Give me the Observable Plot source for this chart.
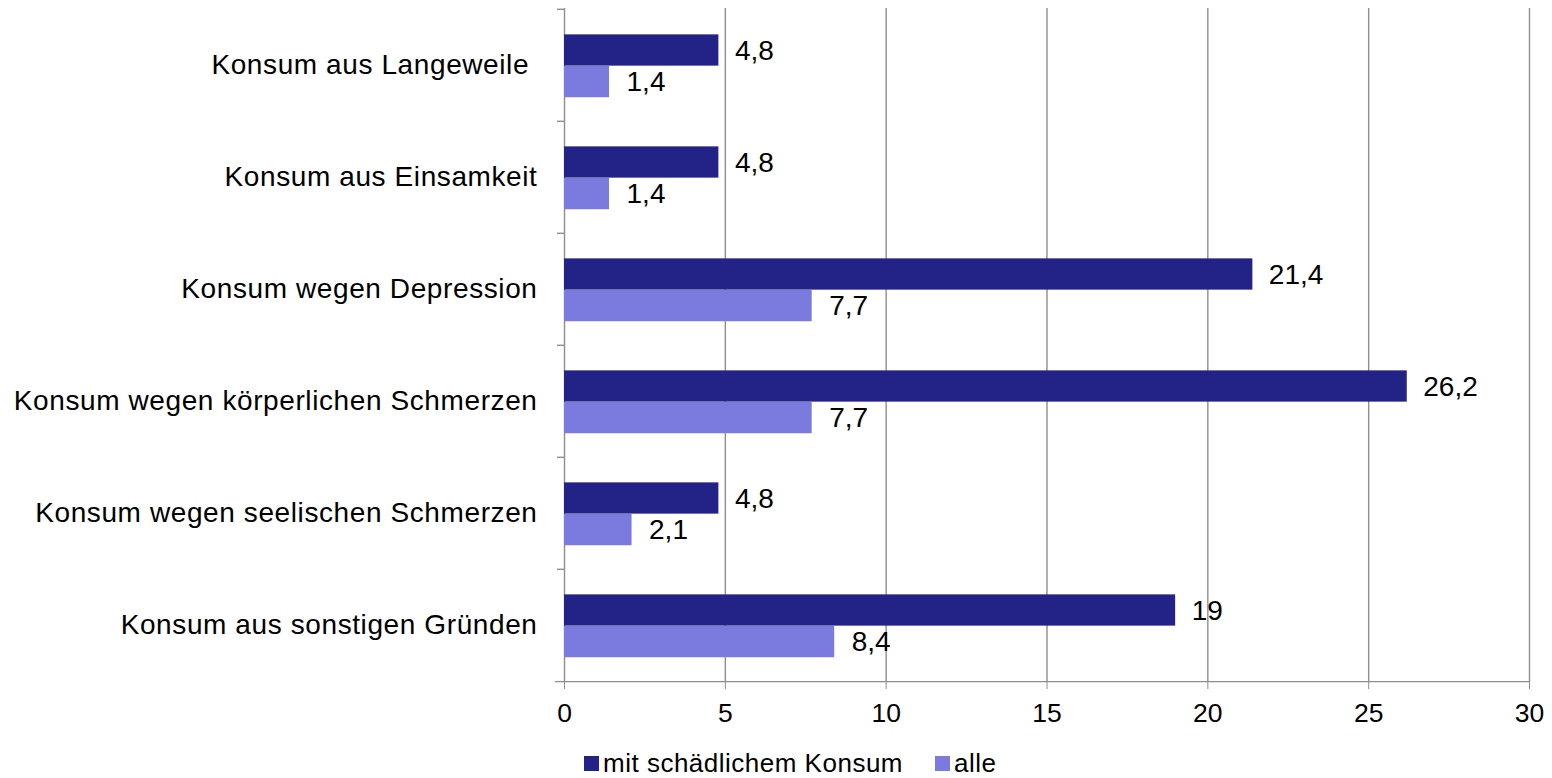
<!DOCTYPE html>
<html>
<head>
<meta charset="utf-8">
<script src="https://cdn.jsdelivr.net/npm/d3@7"></script>
<script src="https://cdn.jsdelivr.net/npm/@observablehq/plot@0.6"></script>
<style>
  html, body { margin: 0; padding: 0; background: #fff; }
  body { font-family: "Liberation Sans", Arial, sans-serif; }
  #chart svg { display: block; }
  svg text { fill: #000; white-space: pre; }
  #legend { display: flex; align-items: center; height: 28px; line-height: 28px; padding-top: 7px; padding-left: 584px;
            font-size: 26px; letter-spacing: 0.5px; color: #000; }
  #legend .sw { width: 15px; height: 15px; margin-right: 4px; }
  #legend .item { display: flex; align-items: center; margin-right: 32px; }
</style>
</head>
<body>
<div id="chart"></div>
<div id="legend"></div>
<script>
const categories = [
  "Konsum aus Langeweile ",
  "Konsum aus Einsamkeit",
  "Konsum wegen Depression",
  "Konsum wegen körperlichen Schmerzen",
  "Konsum wegen seelischen Schmerzen",
  "Konsum aus sonstigen Gründen"
];
const seriesNames = ["mit schädlichem Konsum", "alle"];
const schaedlich = [4.8, 4.8, 21.4, 26.2, 4.8, 19];
const alle = [1.4, 1.4, 7.7, 7.7, 2.1, 8.4];
const xTicks = [0, 5, 10, 15, 20, 25, 30];
const colors = ["#232387", "#7b7bdf"];

const rows = categories.map((c, i) => ({cat: c, dark: schaedlich[i], light: alle[i]}));
const fmt = v => String(v).replace(".", ",");

const W = 1552, H = 742, mt = 8, mb = 60, ml = 564, mr = 23;
const band = (H - mt - mb) / categories.length;
const ppu = (W - ml - mr) / (xTicks[xTicks.length - 1] - xTicks[0]);
const h = 31.6, off = 0.8;
const grid = "#8e8e8e";

const chart = Plot.plot({
  width: W, height: H,
  marginTop: mt, marginBottom: mb, marginLeft: ml, marginRight: mr,
  style: {fontFamily: '"Liberation Sans", Arial, sans-serif', fontSize: "26.5px", color: grid, background: "#fff"},
  x: {domain: [0, 30], ticks: xTicks, tickSize: 7, tickPadding: 14, tickFormat: d => fmt(d), label: null},
  y: {domain: categories, padding: 0, tickSize: 0, tickPadding: 27, label: null},
  marks: [
    Plot.ruleX(xTicks, {stroke: grid, strokeWidth: 1.4}),
    Plot.ruleY(categories, {x1: -7 / ppu, x2: 0, dy: -band / 2, stroke: grid, strokeWidth: 1.4}),
    Plot.ruleY([categories[categories.length - 1]], {x1: -9 / ppu, x2: 30, dy: band / 2, stroke: grid, strokeWidth: 1.4}),
    Plot.barX(rows, {x: "dark", y: "cat", fill: colors[0],
      insetTop: band / 2 - h + off, insetBottom: band / 2 - off}),
    Plot.barX(rows, {x: "light", y: "cat", fill: colors[1],
      insetTop: band / 2 + off, insetBottom: band / 2 - h - off}),
    Plot.text(rows, {x: "dark", y: "cat", text: d => fmt(d.dark), textAnchor: "start", dx: 16, dy: -14,
      fontSize: 28, fill: "#000"}),
    Plot.text(rows, {x: "light", y: "cat", text: d => fmt(d.light), textAnchor: "start", dx: 17, dy: 17,
      fontSize: 28, fill: "#000"})
  ]
});
document.getElementById("chart").appendChild(chart);

// style category labels
chart.querySelectorAll('g[aria-label^="y-axis"] text').forEach(t => {
  t.style.fontSize = "28px";
  t.style.letterSpacing = "0.6px";
});

const legend = document.getElementById("legend");
seriesNames.forEach((name, i) => {
  const item = document.createElement("div");
  item.className = "item";
  const sw = document.createElement("div");
  sw.className = "sw";
  sw.style.background = colors[i];
  const lab = document.createElement("span");
  lab.textContent = name;
  item.appendChild(sw);
  item.appendChild(lab);
  legend.appendChild(item);
});
</script>
</body>
</html>
